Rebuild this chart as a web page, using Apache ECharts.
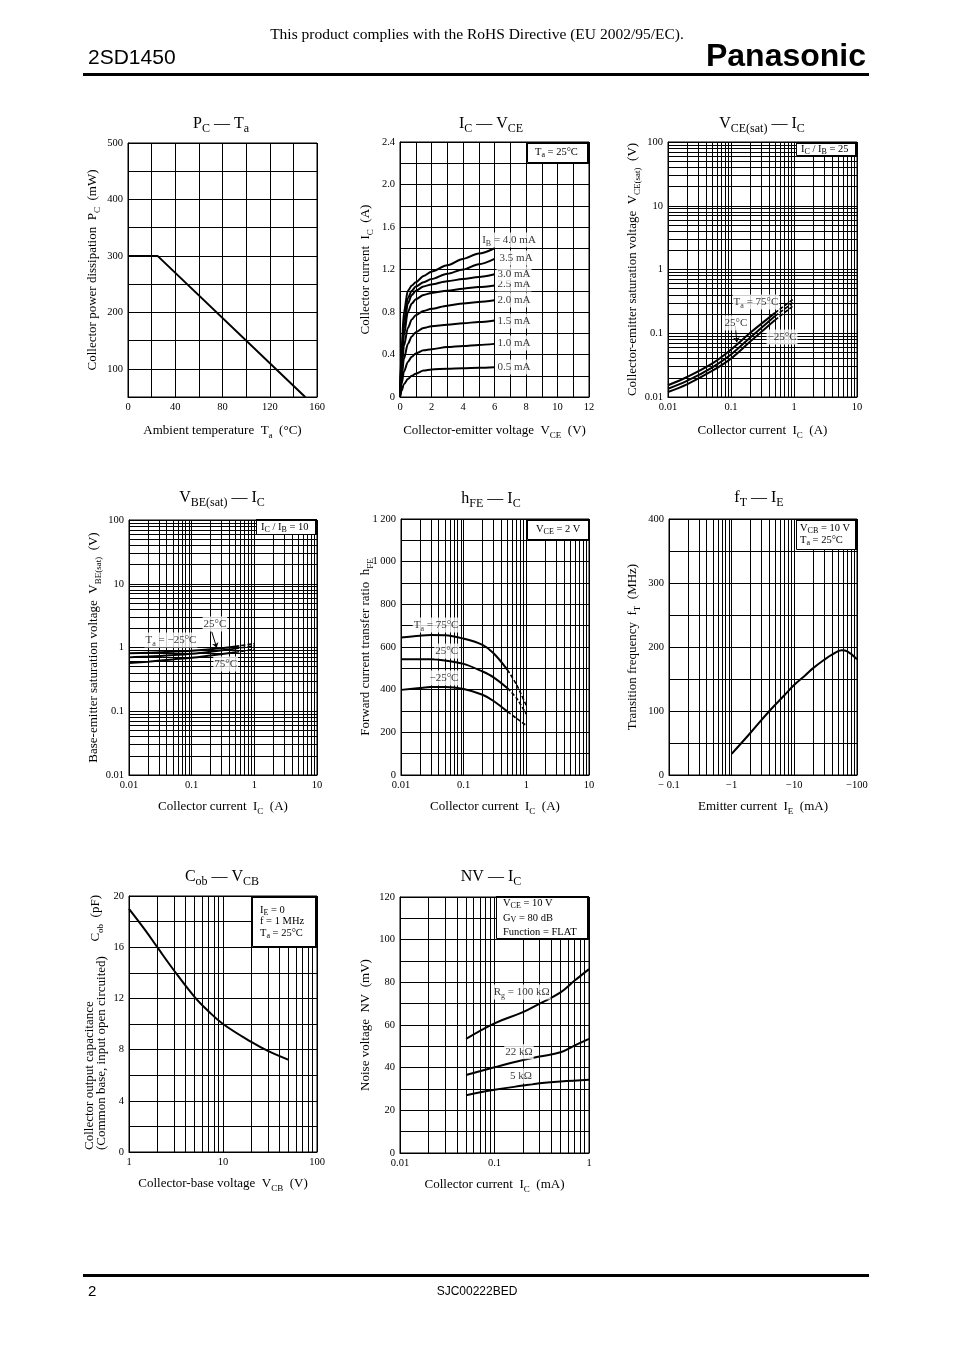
<!DOCTYPE html>
<html>
<head>
<meta charset="utf-8">
<title>2SD1450</title>
<script src="https://cdn.jsdelivr.net/npm/echarts@6/dist/echarts.min.js"></script>
<style>
html, body { margin: 0; padding: 0; background: #fff; }
#main { width: 954px; height: 1348px; }
</style>
</head>
<body>
<div id="main"></div>
<script>
// ---- data ----
// PC - Ta
const pcTa = [[0, 300], [25, 300], [150, 50]];

// IC - VCE, Ta = 25C, one curve per base current
const icVceIB = ['0.5 mA', '1.0 mA', '1.5 mA', '2.0 mA', '2.5 mA', '3.0 mA', '3.5 mA', 'I{s|B} = 4.0 mA'];
const icVce05 = [[0,0],[0.1,0.06],[0.25,0.12],[0.5,0.17],[0.75,0.2],[1,0.22],[1.5,0.25],[2,0.26],[3,0.265],[4,0.27],[5,0.275],[6,0.28]];
const icVce10 = [[0,0],[0.1,0.12],[0.25,0.24],[0.5,0.33],[0.75,0.38],[1,0.41],[1.5,0.44],[2,0.45],[3,0.47],[4,0.48],[5,0.49],[6,0.5]];
const icVce15 = [[0,0],[0.1,0.18],[0.25,0.36],[0.5,0.5],[0.75,0.57],[1,0.61],[1.5,0.65],[2,0.665],[3,0.68],[4,0.695],[5,0.705],[6,0.72]];
const icVce20 = [[0,0],[0.1,0.25],[0.25,0.48],[0.5,0.65],[0.75,0.73],[1,0.77],[1.5,0.81],[2,0.83],[3,0.86],[4,0.88],[5,0.895],[6,0.91]];
const icVce25 = [[0,0],[0.1,0.3],[0.25,0.58],[0.5,0.8],[0.75,0.88],[1,0.92],[1.5,0.96],[2,0.98],[3,1.0],[4,1.02],[5,1.035],[6,1.05]];
const icVce30 = [[0,0],[0.1,0.35],[0.25,0.65],[0.5,0.88],[0.75,0.96],[1,1.0],[1.5,1.04],[2,1.06],[3,1.09],[4,1.11],[5,1.13],[6,1.155]];
const icVce35 = [[0,0],[0.1,0.4],[0.25,0.72],[0.5,0.93],[0.75,1.0],[1,1.04],[1.5,1.08],[2,1.11],[3,1.16],[4,1.2],[5,1.25],[6,1.3]];
const icVce40 = [[0,0],[0.1,0.45],[0.25,0.8],[0.5,1.0],[0.75,1.05],[1,1.08],[1.5,1.14],[2,1.18],[3,1.24],[4,1.3],[5,1.35],[6,1.4]];
const icVceLabelPos = [[7.24,0.282],[7.24,0.508],[7.24,0.715],[7.24,0.913],[7.24,1.064],[7.24,1.158],[7.37,1.308],[6.92,1.478]];

// VCE(sat) - IC, IC/IB = 25
const vceSat75 = [[0.01,0.0153],[0.02,0.0206],[0.05,0.0334],[0.1,0.0555],[0.2,0.101],[0.5,0.209],[1,0.35]];
const vceSat25 = [[0.01,0.0135],[0.02,0.0179],[0.05,0.029],[0.1,0.0464],[0.2,0.085],[0.5,0.186],[1,0.31]];
const vceSatM25 = [[0.01,0.012],[0.02,0.0158],[0.05,0.0256],[0.1,0.04],[0.2,0.0733],[0.5,0.161],[1,0.276]];

// VBE(sat) - IC, IC/IB = 10
const vbeSatM25 = [[0.01,0.81],[0.02,0.83],[0.05,0.86],[0.1,0.89],[0.2,0.94],[0.5,1.04],[1,1.15]];
const vbeSat25 = [[0.01,0.70],[0.02,0.72],[0.05,0.76],[0.1,0.80],[0.2,0.86],[0.5,0.96],[1,1.06]];
const vbeSat75 = [[0.01,0.57],[0.02,0.60],[0.05,0.65],[0.1,0.69],[0.2,0.75],[0.5,0.84],[1,0.94]];

// hFE - IC, VCE = 2 V
const hfe75 = [[0.01,645],[0.02,653],[0.03,656],[0.05,655],[0.1,639],[0.2,610],[0.3,571],[0.5,493],[0.7,423],[1,325]];
const hfe25 = [[0.01,543],[0.03,543],[0.05,537],[0.1,521],[0.2,485],[0.3,458],[0.5,407],[0.7,360],[1,285]];
const hfeM25 = [[0.01,399],[0.02,408],[0.03,412],[0.05,412],[0.1,403],[0.2,376],[0.3,347],[0.5,297],[0.7,265],[1,232]];

// fT - IE (emitter current is negative, magnitudes in mA)
const ftIE = [1, 2, 4, 7, 10, 15, 20, 30, 40, 57, 70, 100];
const ftVal = [33, 66, 100, 125, 141, 156, 167, 180, 188, 195, 193, 181];

// Cob - VCB
const cobVcb = [1, 1.5, 2, 3, 5, 7, 10, 20, 30, 50];
const cobVal = [19, 17.3, 16, 14.2, 12.1, 11, 10, 8.6, 7.9, 7.2];

// NV - IC
const nv100k = [[0.05,53.5],[0.1,60.8],[0.2,66],[0.3,70],[0.5,75.3],[0.7,80.7],[1,86.2]];
const nv22k = [[0.05,36.6],[0.1,40.2],[0.2,43.6],[0.3,45.2],[0.5,47.2],[0.7,50.3],[1,53.5]];
const nv5k = [[0.05,27.1],[0.1,29.6],[0.2,31.6],[0.3,32.7],[0.5,33.5],[1,34.3]];

// ---- styling ----
const serif = '"Liberation Serif", "Times New Roman", serif';
const sans = '"Liberation Sans", Arial, sans-serif';
const black = '#000';

function subRich(fs) {
  return { s: { fontSize: Math.round(fs * 0.72), fontFamily: serif, color: black, verticalAlign: 'bottom' } };
}

const grids = [
  { left: 128, top: 143, width: 189, height: 254 }, // PC-Ta
  { left: 400, top: 142, width: 189, height: 255 }, // IC-VCE
  { left: 668, top: 142, width: 189, height: 255 }, // VCE(sat)-IC
  { left: 129, top: 520, width: 188, height: 255 }, // VBE(sat)-IC
  { left: 401, top: 519, width: 188, height: 256 }, // hFE-IC
  { left: 669, top: 519, width: 188, height: 256 }, // fT-IE
  { left: 129, top: 896, width: 188, height: 256 }, // Cob-VCB
  { left: 400, top: 897, width: 189, height: 256 }  // NV-IC
].map(g => Object.assign(g, { show: true, borderColor: black, borderWidth: 1, backgroundColor: 'transparent', outerBoundsMode: 'none' }));

function axis(gi, o, fmt) {
  return Object.assign({
    gridIndex: gi,
    nameLocation: 'middle',
    nameMoveOverlap: false,
    axisLine: { show: true, onZero: false, lineStyle: { color: black, width: 1 } },
    axisTick: { show: false },
    splitLine: { show: true, lineStyle: { color: black, width: 1 } },
    axisLabel: { color: black, fontFamily: serif, fontSize: 10.5, margin: 5, formatter: fmt },
    nameTextStyle: { color: black, fontFamily: serif, fontSize: 13, lineHeight: 19, rich: subRich(13) }
  }, o);
}

const logFmt = v => String(Number(v.toPrecision(3)));
const everyN = n => v => (Math.round(v * 1000) % Math.round(n * 1000) === 0 ? String(v) : '');

const xAxes = [
  axis(0, { type: 'value', min: 0, max: 160, interval: 20, name: 'Ambient temperature  T{s|a}  (°C)', nameGap: 24 }, everyN(40)),
  axis(1, { type: 'value', min: 0, max: 12, interval: 1, name: 'Collector-emitter voltage  V{s|CE}  (V)', nameGap: 24 }, everyN(2)),
  axis(2, { type: 'log', logBase: 10, min: 0.01, max: 10, name: 'Collector current  I{s|C}  (A)', nameGap: 24 }, logFmt),
  axis(3, { type: 'log', logBase: 10, min: 0.01, max: 10, name: 'Collector current  I{s|C}  (A)', nameGap: 22 }, logFmt),
  axis(4, { type: 'log', logBase: 10, min: 0.01, max: 10, name: 'Collector current  I{s|C}  (A)', nameGap: 22 }, logFmt),
  axis(5, { type: 'log', logBase: 10, min: 0.1, max: 100, name: 'Emitter current  I{s|E}  (mA)', nameGap: 22 },
    v => { const n = Number(v.toPrecision(3)); return n === 0.1 ? '\u2212 0.1' : '\u2212' + n; }),
  axis(6, { type: 'log', logBase: 10, min: 1, max: 100, name: 'Collector-base voltage  V{s|CB}  (V)', nameGap: 22 }, logFmt),
  axis(7, { type: 'log', logBase: 10, min: 0.01, max: 1, name: 'Collector current  I{s|C}  (mA)', nameGap: 22 }, logFmt)
];

const yAxes = [
  axis(0, { type: 'value', min: 50, max: 500, interval: 50, name: 'Collector power dissipation  P{s|C}  (mW)', nameGap: 26 }, everyN(100)),
  axis(1, { type: 'value', min: 0, max: 2.4, interval: 0.2, name: 'Collector current  I{s|C}  (A)', nameGap: 25 },
    v => { const r = Math.round(v * 10); return r % 4 === 0 ? (r === 0 ? '0' : (r / 10).toFixed(1)) : ''; }),
  axis(2, { type: 'log', logBase: 10, min: 0.01, max: 100, name: 'Collector-emitter saturation voltage  V{s|CE(sat)}  (V)', nameGap: 26 }, logFmt),
  axis(3, { type: 'log', logBase: 10, min: 0.01, max: 100, name: 'Base-emitter saturation voltage  V{s|BE(sat)}  (V)', nameGap: 26 }, logFmt),
  axis(4, { type: 'value', min: 0, max: 1200, interval: 100, name: 'Forward current transfer ratio  h{s|FE}', nameGap: 26 },
    v => (v % 200 === 0 ? (v >= 1000 ? '1 ' + String(v).slice(1) : String(v)) : '')),
  axis(5, { type: 'value', min: 0, max: 400, interval: 50, name: 'Transition frequency  f{s|T}  (MHz)', nameGap: 27 }, everyN(100)),
  axis(6, { type: 'value', min: 0, max: 20, interval: 2 }, everyN(4)),
  axis(7, { type: 'value', min: 0, max: 120, interval: 10, name: 'Noise voltage  NV  (mV)', nameGap: 25 }, everyN(20))
];

// minor lines of the log paper (2..9 in every decade)
const logSteps = [2, 3, 4, 5, 6, 7, 8, 9];
function logMinor(min, max) {
  const out = [];
  for (let d = min; d < max * 0.999; d *= 10) logSteps.forEach(s => out.push(Number((d * s).toPrecision(3))));
  return out;
}
function minorLines(gi, dir, values) {
  return {
    type: 'line', xAxisIndex: gi, yAxisIndex: gi, data: [], silent: true, z: 1, animation: false,
    markLine: {
      silent: true, animation: false, symbol: ['none', 'none'], label: { show: false },
      lineStyle: { color: black, width: 1, type: 'solid' },
      emphasis: { disabled: true },
      data: values.map(v => (dir === 'x' ? { xAxis: v } : { yAxis: v }))
    }
  };
}

function curve(gi, data, extra) {
  return Object.assign({
    type: 'line', xAxisIndex: gi, yAxisIndex: gi, data: data, symbol: 'none', showSymbol: false,
    silent: true, animation: false, z: 5, smooth: 0.35,
    lineStyle: { color: black, width: 2 }
  }, extra);
}
// solid up to x = from, dashed afterwards
function splitCurve(gi, data, from) {
  const k = data.findIndex(p => p[0] >= from);
  return [
    curve(gi, data.slice(0, k + 1)),
    curve(gi, data.slice(k), { smooth: 0.2, lineStyle: { color: black, width: 1.6, type: [4, 2] } })
  ];
}

function notes(gi, list, arrows, fs) {
  const s = {
    type: 'scatter', xAxisIndex: gi, yAxisIndex: gi, symbolSize: 0, silent: true, z: 20, animation: false,
    data: list.map(n => ({ value: [n[0], n[1]], label: { formatter: n[2] } })),
    label: {
      show: true, position: 'inside', color: black, fontFamily: serif, fontSize: fs || 11, lineHeight: 15,
      backgroundColor: '#fff', padding: [0, 1], textBorderWidth: 0, rich: subRich(fs || 11)
    }
  };
  if (arrows) {
    s.markLine = {
      silent: true, animation: false, symbol: ['none', 'arrow'], symbolSize: 5, label: { show: false },
      lineStyle: { color: black, width: 1, type: 'solid' },
      data: arrows.map(a => [{ coord: a[0] }, { coord: a[1] }])
    };
  }
  return s;
}

const series = [];
// 1 PC-Ta
series.push(curve(0, pcTa, { smooth: false }));
// 2 IC-VCE
[icVce05, icVce10, icVce15, icVce20, icVce25, icVce30, icVce35, icVce40].forEach(d =>
  series.push(curve(1, d, { smooth: 0.3, smoothMonotone: 'x' })));
series.push(notes(1, icVceLabelPos.map((p, i) => [p[0], p[1], icVceIB[i]])));
// 3 VCE(sat)
series.push(minorLines(2, 'x', logMinor(0.01, 10)), minorLines(2, 'y', logMinor(0.01, 100)));
[vceSat75, vceSat25, vceSatM25].forEach(d => series.push(...splitCurve(2, d, 0.5)));
series.push(notes(2, [[0.249, 0.309, 'T{s|a} = 75°C'], [0.12, 0.145, '25°C'], [0.645, 0.0873, '\u221225°C']],
  [[[0.117, 0.13], [0.124, 0.072]]]));
// 4 VBE(sat)
series.push(minorLines(3, 'x', logMinor(0.01, 10)), minorLines(3, 'y', logMinor(0.01, 100)));
[vbeSatM25, vbeSat25, vbeSat75].forEach(d => series.push(...splitCurve(3, d, 0.5)));
series.push(notes(3, [[0.0467, 1.31, 'T{s|a} = \u221225°C'], [0.235, 2.34, '25°C'], [0.349, 0.551, '75°C']],
  [[[0.209, 1.77], [0.251, 0.99]]]));
// 5 hFE
series.push(minorLines(4, 'x', logMinor(0.01, 10)));
[hfe75, hfe25, hfeM25].forEach(d => series.push(...splitCurve(4, d, 0.5)));
series.push(notes(4, [[0.0363, 703, 'T{s|a} = 75°C'], [0.0536, 581, '25°C'], [0.0485, 455, '\u221225°C']]));
// 6 fT
series.push(minorLines(5, 'x', logMinor(0.1, 100)));
series.push(curve(5, ftIE.map((v, i) => [v, ftVal[i]]), { smooth: 0.4 }));
// 7 Cob
series.push(minorLines(6, 'x', logMinor(1, 100)));
series.push(curve(6, cobVcb.map((v, i) => [v, cobVal[i]]), { smooth: 0.4 }));
// 8 NV
series.push(minorLines(7, 'x', logMinor(0.01, 1)));
[nv100k, nv22k, nv5k].forEach(d => series.push(curve(7, d, { smooth: 0.4 })));
series.push(notes(7, [[0.194, 75.5, 'R{s|g} = 100 kΩ'], [0.1815, 47.5, '22 kΩ'], [0.19, 36.1, '5 kΩ']]));

// ---- page furniture: header, titles, condition boxes ----
function txt(x, y, text, o) {
  const st = Object.assign({
    text: text, fill: black, fontFamily: serif, fontSize: 16, lineHeight: 22,
    align: 'center', verticalAlign: 'middle', textAlign: 'center', textVerticalAlign: 'middle'
  }, o || {});
  if (st.rich === undefined) st.rich = subRich(st.fontSize);
  return { type: 'text', x: x, y: y, z: 100, silent: true, style: st };
}

const titles = [
  [221, 124, 'P{s|C} — T{s|a}'], [491, 124, 'I{s|C} — V{s|CE}'], [762, 124, 'V{s|CE(sat)} — I{s|C}'],
  [222, 498, 'V{s|BE(sat)} — I{s|C}'], [491, 499, 'h{s|FE} — I{s|C}'], [759, 498, 'f{s|T} — I{s|E}'],
  [222, 877, 'C{s|ob} — V{s|CB}'], [491, 877, 'NV — I{s|C}']
];

const boxes = [
  { x: 527, y: 142, w: 62, h: 21, tx: 535, ty: 152, lh: 12, lines: ['T{s|a} = 25°C'] },
  { x: 796, y: 142, w: 61, h: 14, tx: 801, ty: 149, lh: 12, lines: ['I{s|C} / I{s|B} = 25'] },
  { x: 256, y: 519, w: 61, h: 16, tx: 261, ty: 527, lh: 12, lines: ['I{s|C} / I{s|B} = 10'] },
  { x: 527, y: 519, w: 63, h: 21, tx: 536, ty: 529, lh: 12, lines: ['V{s|CE} = 2 V'] },
  { x: 796, y: 519, w: 61, h: 31, tx: 800, ty: 528, lh: 12, lines: ['V{s|CB} = 10 V', 'T{s|a} = 25°C'] },
  { x: 252, y: 896, w: 65, h: 51, tx: 260, ty: 910, lh: 11.5, lines: ['I{s|E} = 0', 'f = 1 MHz', 'T{s|a} = 25°C'] },
  { x: 496, y: 896, w: 93, h: 43, tx: 503, ty: 903, lh: 14.8, lines: ['V{s|CE} = 10 V', 'G{s|V} = 80 dB', 'Function = FLAT'] }
];

const graphics = [
  txt(477, 35, 'This product complies with the RoHS Directive (EU 2002/95/EC).', { fontSize: 15.5 }),
  txt(88, 58, '2SD1450', { fontFamily: sans, fontSize: 21, align: 'left', textAlign: 'left' }),
  txt(866, 57, 'Panasonic', { fontFamily: sans, fontSize: 32, fontWeight: 'bold', align: 'right', textAlign: 'right' }),
  { type: 'rect', z: 100, silent: true, shape: { x: 83, y: 73, width: 786, height: 3 }, style: { fill: black } },
  { type: 'rect', z: 100, silent: true, shape: { x: 83, y: 1274, width: 786, height: 3 }, style: { fill: black } },
  txt(88, 1292, '2', { fontFamily: sans, fontSize: 15, align: 'left', textAlign: 'left' }),
  txt(477, 1292, 'SJC00222BED', { fontFamily: sans, fontSize: 12 }),
  // Cob y-axis name (two lines plus symbol)
  Object.assign(txt(90, 1150, 'Collector output capacitance', { fontSize: 13, align: 'left', textAlign: 'left' }), { rotation: Math.PI / 2 }),
  Object.assign(txt(102, 1150, '(Common base, input open circuited)', { fontSize: 13, align: 'left', textAlign: 'left' }), { rotation: Math.PI / 2 }),
  Object.assign(txt(96, 895, 'C{s|ob}  (pF)', { fontSize: 13, lineHeight: 19, align: 'right', textAlign: 'right' }), { rotation: Math.PI / 2 })
];
titles.forEach(t => graphics.push(txt(t[0], t[1], t[2], { fontSize: 16, lineHeight: 22 })));
boxes.forEach(b => {
  graphics.push({ type: 'rect', z: 100, silent: true, shape: { x: b.x + 0.5, y: b.y + 0.5, width: b.w - 1, height: b.h - 1 },
    style: { fill: '#fff', stroke: black, lineWidth: 1 } });
  graphics.push({ type: 'line', z: 101, silent: true, shape: { x1: b.x, y1: b.y + 1, x2: b.x + b.w, y2: b.y + 1 }, style: { stroke: black, lineWidth: 2 } });
  graphics.push({ type: 'line', z: 101, silent: true, shape: { x1: b.x + b.w - 1, y1: b.y, x2: b.x + b.w - 1, y2: b.y + b.h }, style: { stroke: black, lineWidth: 2 } });
  b.lines.forEach((l, i) => graphics.push(txt(b.tx, b.ty + i * b.lh, l, { fontSize: 10.5, lineHeight: 13, align: 'left', textAlign: 'left' })));
});
graphics.forEach(g => { if (g.type === 'text') g.z = 102; });

const chart = echarts.init(document.getElementById('main'), null, { renderer: 'canvas' });
chart.setOption({
  animation: false,
  backgroundColor: '#fff',
  grid: grids,
  xAxis: xAxes,
  yAxis: yAxes,
  series: series,
  graphic: { elements: graphics }
});
window.addEventListener('resize', chart.resize);
</script>
</body>
</html>
